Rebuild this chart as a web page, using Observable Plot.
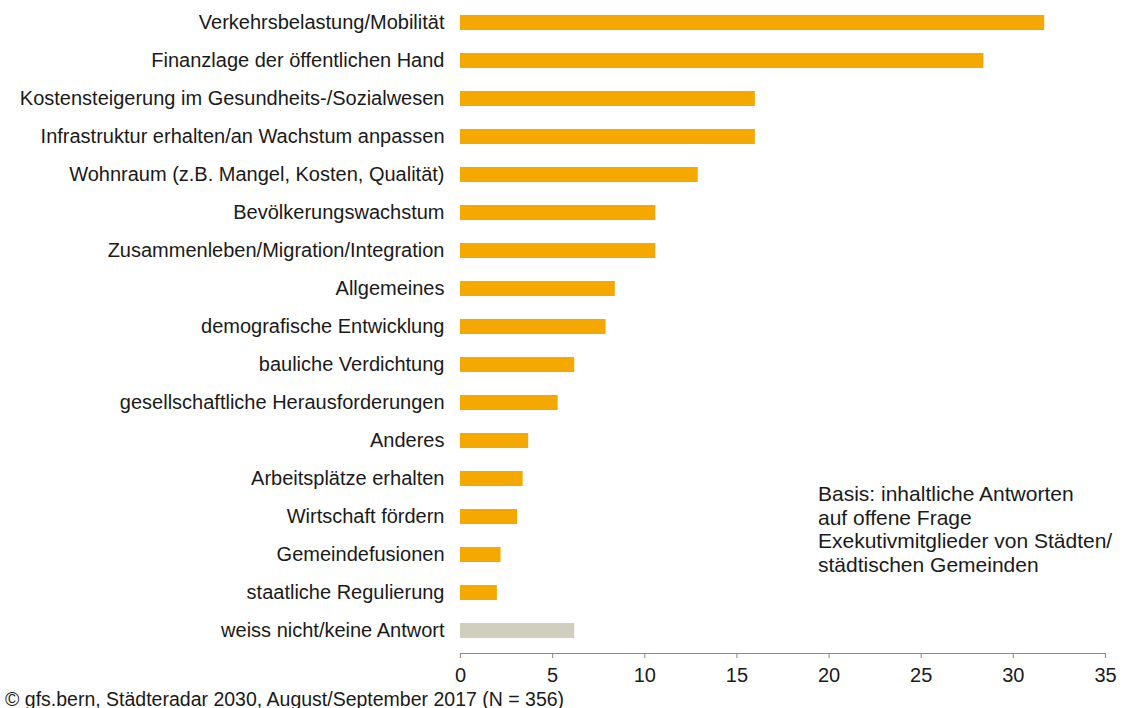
<!DOCTYPE html>
<html>
<head>
<meta charset="utf-8">
<script src="https://cdn.jsdelivr.net/npm/d3@7"></script>
<script src="https://cdn.jsdelivr.net/npm/@observablehq/plot@0.6"></script>
<style>
  html, body { margin: 0; padding: 0; background: #fff; overflow: hidden; }
  body { width: 1125px; height: 708px; position: relative; font-family: "Liberation Sans", Arial, sans-serif; color: #1a1a1a; }
  #note { position: absolute; left: 818px; top: 482px; font-size: 21px; line-height: 23.5px; color: #1a1a1a; white-space: nowrap; }
  #caption { position: absolute; left: 5px; top: 689px; font-size: 19.5px; line-height: 20px; color: #1a1a1a; white-space: nowrap; }
</style>
</head>
<body>
<div id="chart"></div>
<div id="note">Basis: inhaltliche Antworten<br>auf offene Frage<br>Exekutivmitglieder von Städten/<br>städtischen Gemeinden</div>
<div id="caption">© gfs.bern, Städteradar 2030, August/September 2017 (N = 356)</div>
<script>
const categories = [
  "Verkehrsbelastung/Mobilität",
  "Finanzlage der öffentlichen Hand",
  "Kostensteigerung im Gesundheits-/Sozialwesen",
  "Infrastruktur erhalten/an Wachstum anpassen",
  "Wohnraum (z.B. Mangel, Kosten, Qualität)",
  "Bevölkerungswachstum",
  "Zusammenleben/Migration/Integration",
  "Allgemeines",
  "demografische Entwicklung",
  "bauliche Verdichtung",
  "gesellschaftliche Herausforderungen",
  "Anderes",
  "Arbeitsplätze erhalten",
  "Wirtschaft fördern",
  "Gemeindefusionen",
  "staatliche Regulierung",
  "weiss nicht/keine Antwort"
];
const values = [31.7, 28.4, 16.0, 16.0, 12.9, 10.6, 10.6, 8.4, 7.9, 6.2, 5.3, 3.7, 3.4, 3.1, 2.2, 2.0, 6.2];
const groups = ["content","content","content","content","content","content","content","content","content","content","content","content","content","content","content","content","none"];
const xTicks = [0, 5, 10, 15, 20, 25, 30, 35];

const data = categories.map((c, i) => ({category: c, value: values[i], group: groups[i]}));

const chart = Plot.plot({
  width: 1125,
  height: 689,
  marginLeft: 460,
  marginRight: 20,
  marginTop: 1,
  marginBottom: 36,
  style: {fontFamily: "'Liberation Sans', Arial, sans-serif", fontSize: "20px", color: "#1a1a1a", background: "#fff"},
  x: {domain: [0, 35], ticks: xTicks},
  y: {domain: categories, paddingInner: 0.6, paddingOuter: 0.35},
  color: {domain: ["content", "none"], range: ["#F5A800", "#D0CEBC"]},
  marks: [
    Plot.barX(data, {x: "value", y: "category", fill: "group"}),
    Plot.frame({anchor: "bottom", stroke: "#888"}),
    Plot.axisX({ticks: xTicks, tickSize: 5, tickPadding: 9, stroke: "#888", fill: "#1a1a1a", label: null, fontSize: 20}),
    Plot.axisY({tickSize: 0, tickPadding: 16, label: null, fill: "#1a1a1a", fontSize: 20})
  ]
});
document.getElementById("chart").appendChild(chart);
</script>
</body>
</html>
